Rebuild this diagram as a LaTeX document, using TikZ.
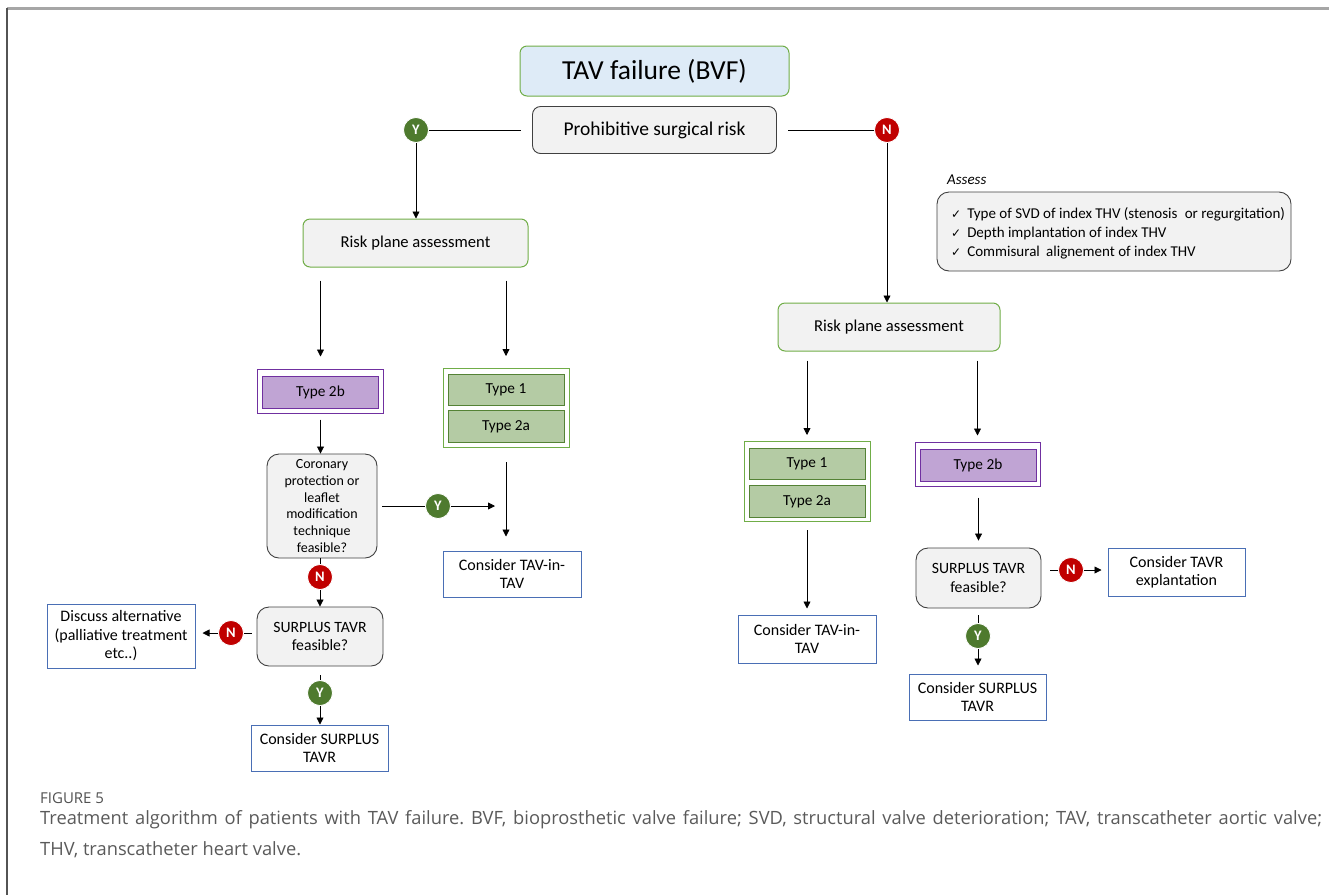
\documentclass[tikz,border=0pt]{standalone}
\usepackage{fontspec}
\setmainfont{Carlito}
\newfontfamily\capfont{Open Sans}
\newfontfamily\symfont{DejaVu Sans}
\usetikzlibrary{arrows.meta}
\frenchspacing
\definecolor{titlefill}{HTML}{DEEBF7}
\definecolor{lgreen}{HTML}{70AD47}
\definecolor{dgreen}{HTML}{548235}
\definecolor{gfill}{HTML}{B4CBA4}
\definecolor{purp}{HTML}{7030A0}
\definecolor{pfill}{HTML}{C0A4D4}
\definecolor{boxgray}{HTML}{F2F2F2}
\definecolor{edgegray}{HTML}{404040}
\definecolor{bblue}{HTML}{4A6FB5}
\definecolor{ycol}{HTML}{4E7A2E}
\definecolor{ncol}{HTML}{C00000}
\definecolor{capgray}{HTML}{5A5A5A}
\tikzset{
  every node/.style={inner sep=0pt, align=center},
  titlebox/.style={draw=lgreen, fill=titlefill, rounded corners=7pt, line width=1pt, font=\fontsize{27.5}{30}\selectfont},
  graybox/.style={draw=edgegray, fill=boxgray, rounded corners=8pt, line width=0.9pt, font=\fontsize{19.5}{22}\selectfont},
  riskbox/.style={draw=lgreen, fill=boxgray, rounded corners=7pt, line width=1pt, minimum width=225pt, minimum height=48pt, font=\fontsize{16.6}{19}\selectfont},
  decbox/.style={draw=edgegray, fill=boxgray, rounded corners=12pt, line width=0.9pt, font=\fontsize{14}{16.8}\selectfont},
  bluebox/.style={draw=bblue, line width=1pt, minimum width=137pt, minimum height=46pt, font=\fontsize{16}{18.5}\selectfont},
  pouter/.style={draw=purp, line width=1pt, minimum width=126pt, minimum height=44pt},
  pinner/.style={draw=purp, fill=pfill, line width=1pt, minimum width=116pt, minimum height=32pt, font=\fontsize{15.3}{17}\selectfont},
  gouter/.style={draw=lgreen, line width=1pt, minimum width=126pt, minimum height=79pt},
  ginner/.style={draw=dgreen, fill=gfill, line width=1pt, minimum width=116pt, minimum height=31.5pt, font=\fontsize{15.3}{17}\selectfont},
  ycirc/.style={circle, fill=ycol, draw=white, line width=0.8pt, minimum size=25pt, text=white, font=\bfseries\fontsize{14.5}{14.5}\selectfont},
  ncirc/.style={circle, fill=ncol, draw=white, line width=0.8pt, minimum size=25pt, text=white, font=\bfseries\fontsize{14.5}{14.5}\selectfont},
  conn/.style={line width=0.8pt, black},
  arr/.style={conn, -{Triangle[length=7pt,width=7pt]}},
}
\begin{document}
\begin{tikzpicture}[x=1pt,y=-1pt]
\useasboundingbox (0,0) rectangle (1329,895);
% frame
\draw[color=gray!70, line width=2.2pt] (7,8.5) -- (1329,8.5);
\draw[color=edgegray!90, line width=1.4pt] (7,8) -- (7,895);

% top
\node[titlebox, minimum width=269pt, minimum height=50pt] (title) at (654.5,71) {TAV failure (BVF)};
\node[graybox, minimum width=244pt, minimum height=47pt] (prob) at (654.5,130) {Prohibitive surgical risk};
\node[ycirc] (yt) at (416,130) {Y};
\node[ncirc] (nt) at (887,130) {N};
\draw[conn, shorten >=11pt] (yt) -- (prob.west);
\draw[conn, shorten >=11pt] (nt) -- (prob.east);

% left branch
\node[riskbox] (riskL) at (415.5,243) {Risk plane assessment};
\draw[arr] (yt) -- (yt |- riskL.north);

\node[pouter] (t2bLo) at (320.5,391) {};
\node[pinner] (t2bL) at (320.5,392) {Type 2b};
\node[gouter] (gLo) at (506,408) {};
\node[ginner] (t1L) at (506,390) {Type 1};
\node[ginner] (t2aL) at (506,426.5) {Type 2a};
\draw[arr, shorten <=13pt, shorten >=12pt] (riskL.south -| t2bLo) -- (t2bLo.north);
\draw[arr, shorten <=13pt, shorten >=12pt] (riskL.south -| gLo) -- (gLo.north);

\node[decbox, minimum width=110pt, minimum height=104pt] (cor) at (322,506) {Coronary\\protection or\\leaflet\\modification\\technique\\feasible?};
\draw[arr, shorten <=6pt] (t2bLo.south) -- (t2bLo.south |- cor.north);

\node[bluebox, minimum width=138pt] (tavL) at (512,574) {Consider TAV-in-\\TAV};
\draw[arr, shorten <=14pt, shorten >=14pt] (gLo.south) -- (gLo.south |- tavL.north);
\node[ycirc] (y2) at (438,506) {Y};
\draw[conn, shorten <=5pt] (cor.east) -- (y2);
\draw[arr, shorten >=11pt] (y2) -- (gLo.south |- y2);

\node[ncirc] (n2) at (320,577) {N};
\node[decbox, minimum width=126pt, minimum height=59pt, font=\fontsize{15.7}{18.5}\selectfont] (surL) at (320,636.5) {SURPLUS TAVR\\feasible?};
\draw[conn] (cor.south -| n2) -- (n2);
\draw[arr] (n2) -- (n2 |- surL.north);

\node[ncirc] (n3) at (231,633) {N};
\node[bluebox, minimum width=148pt, minimum height=64pt] (disc) at (121,636) {Discuss alternative\\(palliative treatment\\etc..)};
\draw[conn, shorten <=5pt] (surL.west |- n3) -- (n3);
\draw[arr, shorten >=7pt] (n3) -- (disc.east |- n3);

\node[ycirc] (y3) at (320,693) {Y};
\node[bluebox] (csL) at (319.5,748) {Consider SURPLUS\\TAVR};
\draw[conn, shorten <=9pt] (surL.south) -- (y3);
\draw[arr] (y3) -- (y3 |- csL.north);

% right branch
\node[riskbox, minimum width=222pt] (riskR) at (889,327) {Risk plane assessment};
\draw[arr] (nt) -- (nt |- riskR.north);

\node[font=\itshape\fontsize{15}{17}\selectfont, anchor=west] (asslab) at (947,180) {Assess};
\node[draw=edgegray, fill=boxgray, rounded corners=12pt, line width=0.9pt, minimum width=354pt, minimum height=79pt] (assbox) at (1114,231.5) {};
\node[anchor=west, align=left, font=\fontsize{15}{19}\selectfont] (asstext) at (951,233) {{\symfont\fontsize{12}{19}\selectfont ✓}\hspace{6pt}Type of SVD of index THV (stenosis\hspace{4pt} or regurgitation)\\{\symfont\fontsize{12}{19}\selectfont ✓}\hspace{6pt}Depth implantation of index THV\\{\symfont\fontsize{12}{19}\selectfont ✓}\hspace{6pt}Commisural\hspace{3pt} alignement of index THV};

\node[gouter, minimum height=80pt] (gRo) at (807,481.5) {};
\node[ginner] (t1R) at (807,464) {Type 1};
\node[ginner] (t2aR) at (807,501.5) {Type 2a};
\node[pouter, minimum width=125pt] (t2bRo) at (977.5,464) {};
\node[pinner] (t2bR) at (978,465) {Type 2b};
\draw[arr, shorten <=9pt, shorten >=6pt] (riskR.south -| gRo) -- (gRo.north);
\draw[arr, shorten <=9pt, shorten >=6pt] (riskR.south -| t2bRo) -- (t2bRo.north);

\node[bluebox, minimum width=138pt, minimum height=48pt] (tavR) at (807,639) {Consider TAV-in-\\TAV};
\draw[arr, shorten <=8pt, shorten >=6pt] (gRo.south) -- (tavR.north);

\node[decbox, minimum width=125pt, minimum height=60pt, font=\fontsize{15.7}{18.5}\selectfont] (surR) at (978.5,578) {SURPLUS TAVR\\feasible?};
\draw[arr, shorten <=11pt, shorten >=7pt] (t2bRo.south -| surR) -- (surR.north);

\node[ncirc] (n4) at (1071,570) {N};
\node[bluebox, minimum width=137pt, minimum height=48pt] (explR) at (1176.5,572) {Consider TAVR\\explantation};
\draw[conn, shorten <=9pt] (surR.east |- n4) -- (n4);
\draw[arr, shorten >=6pt] (n4) -- (explR.west |- n4);

\node[ycirc] (y4) at (978,636) {Y};
\node[bluebox] (csR) at (977.5,697) {Consider SURPLUS\\TAVR};
\draw[conn, shorten <=7pt] (surR.south -| y4) -- (y4);
\draw[arr, shorten >=8pt] (y4) -- (y4 |- csR.north);

% caption
\node[anchor=west, text=capgray!90!black, font=\capfont\fontsize{15}{17}\selectfont] (figlab) at (40,798) {FIGURE 5};
\node[anchor=north west, align=left, text=capgray, font=\capfont\fontsize{18.3}{31}\selectfont] (cap) at (40,810) {\makebox[1282pt][s]{Treatment algorithm of patients with TAV failure. BVF, bioprosthetic valve failure; SVD, structural valve deterioration; TAV, transcatheter aortic valve;}\\THV, transcatheter heart valve.};
\end{tikzpicture}
\end{document}
